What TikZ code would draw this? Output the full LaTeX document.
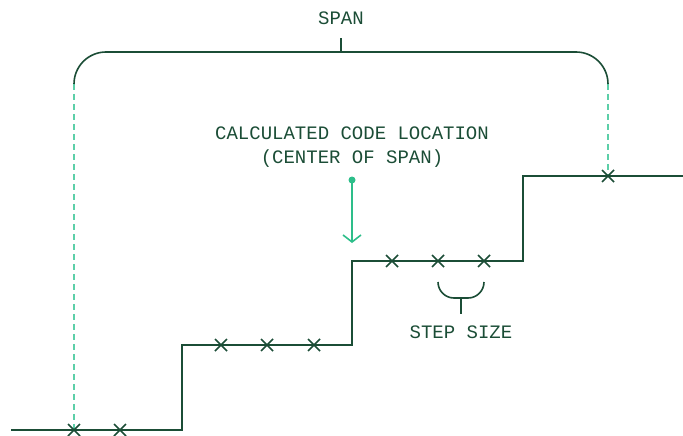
\documentclass[tikz,border=0pt]{standalone}
\usepackage{fontspec}
\setmonofont{Liberation Mono}
\usetikzlibrary{arrows.meta}
\definecolor{dk}{HTML}{1B4D36}
\definecolor{tl}{HTML}{2DBE8A}
\definecolor{lt}{HTML}{5CCFA8}
\tikzset{
  stair/.style={draw=dk, line width=1.6pt},
  brk/.style={draw=dk, line width=1.6pt},
  guide/.style={draw=lt, line width=2.6pt, dash pattern=on 6pt off 4pt},
  lbl/.style={text=dk, font=\fontsize{19}{23}\selectfont\ttfamily, align=center, inner sep=0pt},
  xmark/.pic={\draw[dk, line width=1.5pt] (-6,-6)--(6,6) (-6,6)--(6,-6);}
}
\begin{document}
\begin{tikzpicture}[x=1pt,y=-1pt]
\useasboundingbox (0,0) rectangle (683,436);
% staircase
\coordinate (s0) at (11,430);
\coordinate (s1) at (182,430);
\coordinate (s2) at (182,345);
\coordinate (s3) at (352,345);
\coordinate (s4) at (352,261);
\coordinate (s5) at (523,261);
\coordinate (s6) at (523,176);
\coordinate (s7) at (683,176);
\draw[stair] (s0)--(s1)--(s2)--(s3)--(s4)--(s5)--(s6)--(s7);
% span bracket
\coordinate (bl) at (74,84);
\coordinate (br) at (608,84);
\coordinate (xl) at (74,430);
\coordinate (xr) at (608,176);
\coordinate (tl0) at (74,52);
\coordinate (tr0) at (608,52);
\draw[guide] (bl)--(xl);
\draw[guide] (br)--(xr);
\draw[brk, rounded corners=32pt] (bl)--(tl0)--(tr0)--(br);
\coordinate (tk0) at (341,52);
\coordinate (tk1) at (341,38);
\draw[brk] (tk0)--(tk1);
\node[lbl] (span) at (341,18) {SPAN};
% crosses
\foreach \p in {(74,430),(120,430),(221,345),(267,345),(314,345),(392,261),(438,261),(484,261),(608,176)}
  \pic at \p {xmark};
% calculated location
\node[lbl, font=\fontsize{19}{24}\selectfont\ttfamily] (calc) at (352,147) {CALCULATED CODE LOCATION\\(CENTER OF SPAN)};
\coordinate (dot) at (352,180);
\coordinate (tip) at (352,243);
\fill[tl] (dot) circle (3.5);
\draw[tl, line width=1.6pt, -{Straight Barb[length=7pt,width=18pt]}] (dot)--(tip);
% step size bracket
\coordinate (ss0) at (438,282);
\coordinate (ss1) at (484,282);
\coordinate (sb0) at (438,298);
\coordinate (sb1) at (484,298);
\draw[brk, rounded corners=16pt] (ss0)--(sb0)--(sb1)--(ss1);
\coordinate (sm0) at (461,298);
\coordinate (sm1) at (461,314);
\draw[brk] (sm0)--(sm1);
\node[lbl] (step) at (461,332) {STEP SIZE};
\end{tikzpicture}
\end{document}
